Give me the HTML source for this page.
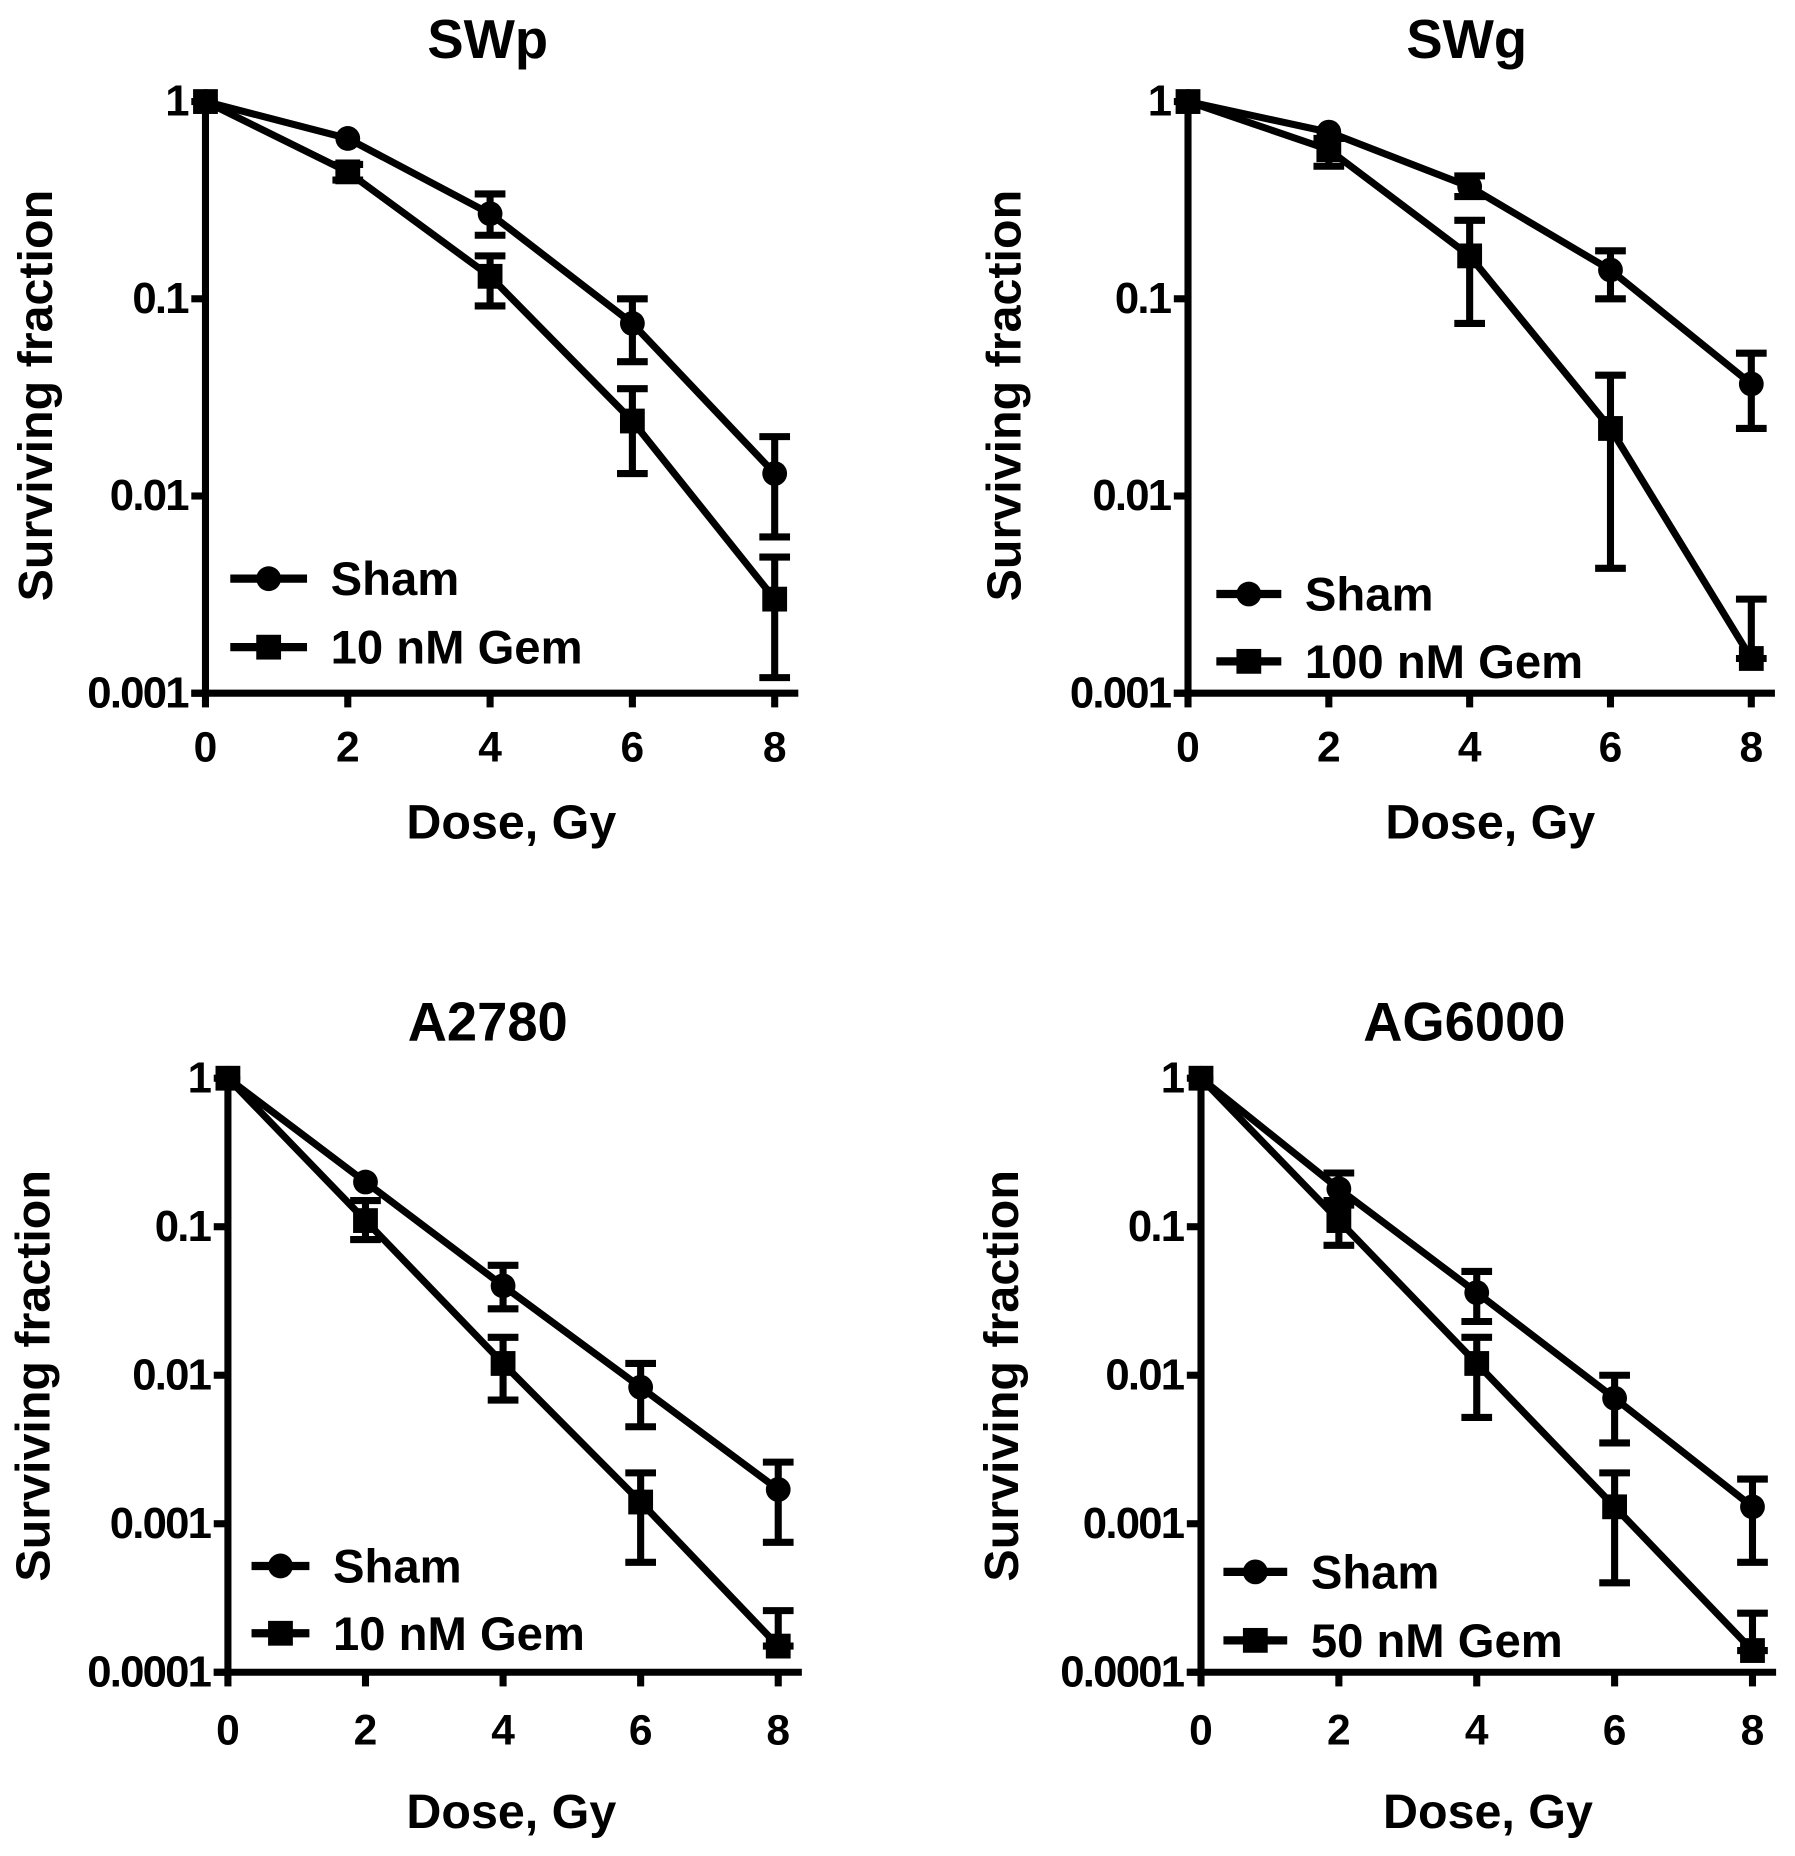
<!DOCTYPE html>
<html><head><meta charset="utf-8"><style>
html,body{margin:0;padding:0;background:#fff;}
svg{display:block;}
text{font-family:"Liberation Sans",Arial,sans-serif;font-weight:bold;fill:#000;}
</style></head><body>
<svg id="fig" width="1795" height="1856" viewBox="0 0 1520 1571.6" preserveAspectRatio="none" xmlns="http://www.w3.org/2000/svg"></svg>
<script>
// ---- data ----
const doses = [0, 2, 4, 6, 8];
const titles = ["SWp", "SWg", "A2780", "AG6000"];
const gemLabels = ["10 nM Gem", "100 nM Gem", "10 nM Gem", "50 nM Gem"];
const swpSham = [1, 0.65, 0.27, 0.075, 0.013];
const swpShamLo = [1, 0.65, 0.21, 0.048, 0.0062];
const swpShamHi = [1, 0.65, 0.34, 0.10, 0.020];
const swpGem = [1, 0.44, 0.13, 0.024, 0.003];
const swpGemLo = [1, 0.40, 0.092, 0.013, 0.0012];
const swpGemHi = [1, 0.48, 0.165, 0.035, 0.0049];
const swgSham = [1, 0.70, 0.37, 0.14, 0.037];
const swgShamLo = [1, 0.70, 0.33, 0.10, 0.022];
const swgShamHi = [1, 0.70, 0.42, 0.175, 0.053];
const swgGem = [1, 0.57, 0.165, 0.022, 0.0015];
const swgGemLo = [1, 0.47, 0.075, 0.0043, 0.0015];
const swgGemHi = [1, 0.65, 0.25, 0.041, 0.003];
const a2780Sham = [1, 0.20, 0.040, 0.0083, 0.0017];
const a2780ShamLo = [1, 0.20, 0.028, 0.0045, 0.00075];
const a2780ShamHi = [1, 0.20, 0.055, 0.012, 0.0026];
const a2780Gem = [1, 0.11, 0.012, 0.0014, 0.00015];
const a2780GemLo = [1, 0.082, 0.0068, 0.00055, 0.00015];
const a2780GemHi = [1, 0.15, 0.018, 0.0022, 0.00026];
const agSham = [1, 0.18, 0.036, 0.007, 0.0013];
const agShamLo = [1, 0.14, 0.023, 0.0035, 0.00055];
const agShamHi = [1, 0.23, 0.050, 0.010, 0.0020];
const agGem = [1, 0.11, 0.012, 0.0013, 0.00014];
const agGemLo = [1, 0.075, 0.0052, 0.0004, 0.00014];
const agGemHi = [1, 0.15, 0.018, 0.0022, 0.00025];
const ticksTop = ["1", "0.1", "0.01", "0.001"];
const ticksBottom = ["1", "0.1", "0.01", "0.001", "0.0001"];
const xTickLabels = ["0", "2", "4", "6", "8"];

const NS = "http://www.w3.org/2000/svg";
const svg = document.getElementById("fig");
function mk(tag, attrs, parent) {
  const e = document.createElementNS(NS, tag);
  for (const k in attrs) e.setAttribute(k, attrs[k]);
  (parent || svg).appendChild(e);
  return e;
}
const SW = 6;
const panels = [
  {x0:174,x8:656,yTop:86,yBot:587,decades:3,ticks:ticksTop,sham:[swpSham,swpShamLo,swpShamHi],gem:[swpGem,swpGemLo,swpGemHi],tx:413,ty:49,xl:433,xly:710,yt:30,yty:335,leg:[195,260,490,548],xty:645},
  {x0:1006,x8:1483,yTop:86,yBot:587,decades:3,ticks:ticksTop,sham:[swgSham,swgShamLo,swgShamHi],gem:[swgGem,swgGemLo,swgGemHi],tx:1242,ty:49,xl:1262,xly:710,yt:850,yty:335,leg:[1030,1085,503,560],xty:645},
  {x0:193,x8:659,yTop:913,yBot:1416,decades:4,ticks:ticksBottom,sham:[a2780Sham,a2780ShamLo,a2780ShamHi],gem:[a2780Gem,a2780GemLo,a2780GemHi],tx:413,ty:881,xl:433,xly:1548,yt:28,yty:1165,leg:[213,262,1326,1383],xty:1477},
  {x0:1017,x8:1484,yTop:913,yBot:1416,decades:4,ticks:ticksBottom,sham:[agSham,agShamLo,agShamHi],gem:[agGem,agGemLo,agGemHi],tx:1240,ty:881,xl:1260,xly:1548,yt:848,yty:1165,leg:[1036,1090,1331,1389],xty:1477}
];
panels.forEach((p, i) => {
  const g = mk("g", {});
  
  
  const xs = d => p.x0 + (p.x8 - p.x0) * d / 8;
  const ys = v => p.yTop + (p.yBot - p.yTop) * (-Math.log10(v)) / p.decades;
  const t = mk("text", {x:p.tx, y:p.ty, "font-size":46, "text-anchor":"middle"}, g);
  t.textContent = titles[i];
  
  
  const ya = mk("line", {x1:p.x0, y1:p.yTop - 3, x2:p.x0, y2:p.yBot, stroke:"#000", "stroke-width":SW}, g);
  
  
  const xa = mk("line", {x1:p.x0 - 12, y1:p.yBot, x2:p.x8 + 20, y2:p.yBot, stroke:"#000", "stroke-width":SW}, g);
  
  
  p.ticks.forEach((lab, k) => {
    const y = ys(Math.pow(10, -k));
    mk("line", {x1:p.x0 - 12, y1:y, x2:p.x0, y2:y, stroke:"#000", "stroke-width":SW}, g);
    const tl = mk("text", {x:p.x0 - 15, y:y + 12, "font-size":37, "text-anchor":"end", "letter-spacing":-1.5}, g);
    tl.textContent = lab;
    
    
  });
  doses.forEach((d, k) => {
    const x = xs(d);
    mk("line", {x1:x, y1:p.yBot, x2:x, y2:p.yBot + 12, stroke:"#000", "stroke-width":SW}, g);
    const tl = mk("text", {x:x, y:p.xty, "font-size":36, "text-anchor":"middle"}, g);
    tl.textContent = xTickLabels[k];
    
    
  });
  const xt = mk("text", {x:p.xl, y:p.xly, "font-size":41, "text-anchor":"middle"}, g);
  xt.textContent = "Dose, Gy";
  
  
  const yt = mk("text", {x:0, y:0, "font-size":41, "text-anchor":"middle", transform:`translate(${p.yt + 14},${p.yty}) rotate(-90)`}, g);
  yt.textContent = "Surviving fraction";
  
  
  [["sham", p.sham], ["gem", p.gem]].forEach(([nm, arr]) => {
    const [v, lo, hi] = arr;
    const pts = doses.map((d, k) => xs(d) + "," + ys(v[k])).join(" ");
    const pl = mk("polyline", {points:pts, fill:"none", stroke:"#000", "stroke-width":SW, "stroke-linejoin":"round"}, g);
    
    
    doses.forEach((d, k) => {
      const x = xs(d);
      if (hi[k] !== lo[k]) {
        const eb = mk("path", {d:`M${x},${ys(hi[k])}V${ys(lo[k])}M${x-13},${ys(hi[k])}H${x+13}M${x-13},${ys(lo[k])}H${x+13}`, stroke:"#000", "stroke-width":SW, fill:"none"}, g);
        
        
      }
      let m;
      if (nm === "sham") m = mk("circle", {cx:x, cy:ys(v[k]), r:10.5, fill:"#000"}, g);
      else m = mk("rect", {x:x - 10.5, y:ys(v[k]) - 10.5, width:21, height:21, fill:"#000"}, g);
      
      
    });
  });
  const [lx1, lx2, ly1, ly2] = p.leg;
  [[ly1, "Sham", "sham"], [ly2, gemLabels[i], "gem"]].forEach(([ly, lab, nm]) => {
    const lg = mk("g", {}, g);
    
    
    mk("line", {x1:lx1, y1:ly, x2:lx2, y2:ly, stroke:"#000", "stroke-width":7}, lg);
    const cx = (lx1 + lx2) / 2;
    if (nm === "sham") mk("circle", {cx:cx, cy:ly, r:10.5, fill:"#000"}, lg);
    else mk("rect", {x:cx - 10.5, y:ly - 10.5, width:21, height:21, fill:"#000"}, lg);
    const lt = mk("text", {x:lx2 + 20, y:ly + 14, "font-size":40}, lg);
    lt.textContent = lab;
  });
});
</script>
</body></html>
